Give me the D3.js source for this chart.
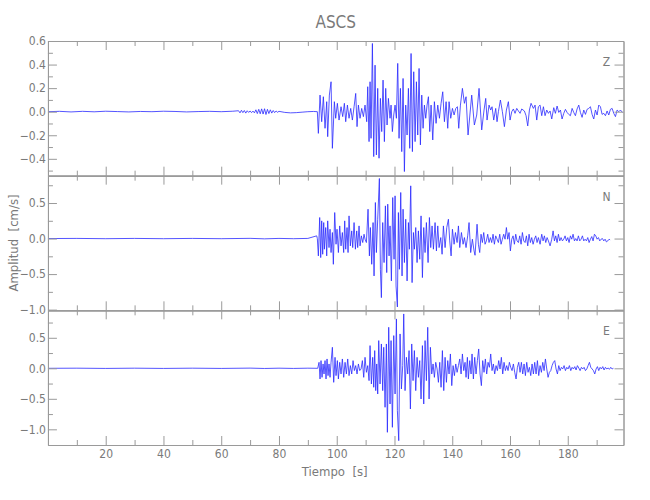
<!DOCTYPE html>
<html><head><meta charset="utf-8">
<script src="https://cdn.jsdelivr.net/npm/d3@7"></script>
<style>body{margin:0;background:#fff}</style>
</head><body>
<script>
const title = "ASCS";
const components = ["Z", "N", "E"];
const xLabel = "Tiempo  [s]";
const yLabel = "Amplitud  [cm/s]";
const timeDomain = [0, 199.3];
const xMajorTicks = [20, 40, 60, 80, 100, 120, 140, 160, 180];
const xMinorTicks = [10, 30, 50, 70, 90, 110, 130, 150, 170, 190];

const zDomain = [-0.543, 0.6];
const nDomain = [-1.01, 0.885];
const eDomain = [-1.257, 0.95];
const zMajorTicks = [-0.4, -0.2, 0, 0.2, 0.4, 0.6];
const zMinorTicks = [-0.5, -0.3, -0.1, 0.1, 0.3, 0.5];
const nMajorTicks = [-1.0, -0.5, 0, 0.5];
const nMinorTicks = [-0.75, -0.25, 0.25, 0.75];
const eMajorTicks = [-1.0, -0.5, 0, 0.5];
const eMinorTicks = [-0.75, -0.25, 0.25, 0.75];

// [time (s), amplitude (cm/s)]
const zTrace = [[0,0],[4,0.003],[8,-0.002],[12,0.003],[16,-0.001],[20,0.004],[24,0.001],[28,-0.002],[32,0.002],[36,0],[40,0.004],[44,0.002],[48,-0.002],[52,0.001],[56,0.003],[60,0],[64,0.004],
[66,0.008],[66.5,-0.01],[67,0.012],[67.5,-0.008],[68,0.01],[68.5,-0.012],[69,0.008],[69.5,-0.006],[70,0.006],[70.5,-0.008],[71,0.005],[71.5,-0.01],[72,0.016],[72.5,-0.016],[73,0.02],[73.5,-0.018],[74,0.024],[74.5,-0.02],[75,0.025],[75.5,-0.024],[76,0.02],[76.5,-0.016],[77,0.016],[77.5,-0.012],[78,0.01],[78.5,-0.008],[79,0.006],[79.5,-0.005],[80,0.003],[82,-0.006],[84,-0.01],[86,-0.008],[88,-0.004],[90,0],[92,0.002],[93.29,0],
[93.64,-0.184],[94.22,0.141],[94.79,-0.085],[95.37,0.127],[95.95,-0.141],[96.53,0.085],[96.87,-0.212],[97.45,0.141],[98.03,0.254],[98.49,-0.311],[99.18,0.085],[99.64,-0.056],[100.22,0.071],[100.80,-0.071],[101.49,0.042],[102.07,-0.042],[102.65,0.071],[103.11,-0.085],[103.69,0.056],[104.26,-0.056],[104.84,0.028],[105.42,-0.071],[106.00,0.042],[106.57,0.155],[107.03,-0.127],[107.50,0.056],[108.07,-0.056],[108.65,0.028],[109.23,-0.042],[109.80,0.056],[110.38,-0.085],[110.73,0.212],[111.19,-0.254],[111.54,0.254],[111.88,-0.226],[112.35,0.579],[112.81,-0.381],[113.27,0.395],[113.73,-0.367],[114.19,0.198],[114.65,-0.395],[115.12,0.113],[115.58,-0.169],[116.04,0.268],[116.50,-0.254],[116.96,0.198],[117.43,-0.113],[117.89,0.113],[118.46,-0.056],[118.81,0.056],[119.27,-0.169],[119.74,-0.028],[120.20,0.056],[120.66,-0.056],[121.12,0.410],[121.58,-0.226],[122.05,0.198],[122.51,-0.339],[122.97,0.282],[123.43,-0.508],[123.89,0.056],[124.36,-0.198],[124.82,0.198],[125.28,-0.311],[125.74,0.494],[126.20,-0.339],[126.66,0.339],[127.13,-0.254],[127.59,0.254],[128.05,-0.198],[128.51,0.367],[128.97,-0.282],[129.44,0.141],[129.90,-0.141],[130.36,0.056],[130.82,-0.056],[131.28,0.056],[131.75,0.127],[132.21,-0.169],[132.67,0.056],[133.25,-0.240],[133.82,0.085],[134.40,-0.099],[134.98,0.056],[135.56,-0.056],[136.13,0.071],[136.71,0.169],[137.29,-0.085],[137.87,0.085],[138.44,-0.141],[138.90,0.085],[139.48,-0.056],[140.06,0.028],[140.64,-0.028],[141.21,0.028],[141.79,0.042],[142.25,-0.141],[142.83,0.056],[143.52,0.198],[144.21,0.071],
[144.78,0.127],[145.47,-0.198],[146.74,0.141],[147.66,-0.113],[148.47,-0.028],[149.28,0.198],[150.20,-0.155],[151.01,0.014],[151.59,0.113],[152.05,-0.071],[152.74,0.056],[153.32,0.014],[153.78,0.042],[154.36,-0.071],[155.05,0.028],[155.51,-0.085],[155.98,0],[156.67,0.099],[157.36,0],[158.06,-0.127],[158.75,0.014],[159.44,0.085],[160.02,-0.071],[160.60,0],[161.17,0.023],[161.75,-0.014],[162.33,0.028],[162.91,0.006],[163.48,-0.014],[164.06,0.023],[164.98,0.006],[165.56,-0.034],[166.14,-0.121],[166.72,0.014],[167.29,0.071],[168.10,0.028],[168.68,0.056],[169.26,-0.071],[169.83,0.042],[170.41,0.056],[170.99,-0.034],[171.57,0.042],[172.14,-0.034],[172.72,0.014],[173.30,-0.014],[173.88,0.006],[174.45,-0.062],[175.15,0.034],[175.72,-0.014],[176.30,0.048],[176.88,-0.006],[177.46,0.014],[178.03,-0.062],[178.61,-0.014],[179.19,0.020],[179.76,-0.006],[180.34,-0.023],[180.92,-0.034],[181.50,0.028],[182.07,-0.006],[182.65,-0.034],[183.23,0.023],[183.81,0.056],[184.38,-0.006],[184.96,-0.048],[185.54,0.014],[186.12,-0.023],[186.69,0.020],[187.27,0.028],[187.85,0.042],[188.43,-0.023],[189.00,-0.062],[189.58,0.014],[190.16,-0.028],[190.74,0.056],[191.31,0.042],[191.89,-0.023],[192.47,-0.014],[193.05,-0.034],[193.62,0.006],[194.20,-0.028],[194.78,0.020],[195.36,0.028],[195.93,-0.014],[196.51,-0.042],[197.09,0.014],[197.67,0],[198.24,0.014],[198.94,-0.006]];

const nTrace = [[0,0],[10,0.002],[20,-0.002],[30,0.002],[40,-0.002],[50,0.002],[60,-0.002],[70,0.003],[75,-0.004],[80,0.002],[85,-0.002],[90,0.002],[93.06,0.038],[93.29,0],
[93.64,-0.244],[94.10,0.296],[94.45,-0.268],[94.79,0.249],[95.14,-0.221],[95.49,0.225],[95.72,-0.150],[96.18,0.155],[96.53,-0.244],[96.87,0.249],[97.33,-0.127],[97.68,0.131],[98.03,-0.197],[98.49,0.085],[98.83,-0.362],[99.30,0.366],[99.76,-0.080],[100.10,0.131],[100.57,-0.197],[101.03,0.178],[101.49,-0.103],[101.95,0.085],[102.41,-0.197],[102.76,0.249],[103.11,-0.150],[103.57,0.155],[103.92,-0.197],[104.26,0.319],[104.72,-0.103],[105.19,0.108],[105.53,-0.127],[106.00,0.225],[106.46,-0.150],[106.92,0.108],[107.26,-0.127],[107.73,0.178],[108.07,-0.103],[108.53,0.038],[109.00,-0.056],[109.46,0.061],[109.80,-0.009],[110.27,-0.056],[110.84,0.413],[111.31,-0.244],[111.65,0.155],[112.11,-0.362],[112.58,0.225],[112.92,-0.526],[113.38,0.507],[113.73,-0.197],[114.19,0.272],[114.77,0.845],[115.12,-0.432],[115.46,-0.831],[115.92,0.225],[116.39,-0.338],[116.85,0.460],[117.31,-0.479],[117.66,0.484],[118.12,-0.244],[118.46,0.178],[118.93,-0.596],[119.39,0.577],[119.85,-0.291],[120.20,0.601],[120.54,-0.667],[121.00,-0.962],[121.35,0.366],[121.70,-0.432],[122.16,0.648],[122.62,-0.526],[122.97,0.413],[123.43,-0.338],[123.89,0.272],[124.36,-0.596],[124.82,0.225],[125.16,-0.150],[125.62,0.742],[126.09,-0.620],[126.55,0.085],[126.89,-0.150],[127.36,0.155],[127.82,-0.338],[128.28,0.108],[128.74,-0.291],[129.20,0.319],[129.67,-0.549],[130.13,0.155],[130.59,-0.197],[131.05,0.225],[131.63,-0.338],[132.09,0.296],[132.55,-0.127],[133.01,0.178],[133.48,-0.150],[134.05,0.225],[134.52,-0.174],[134.98,0.178],[135.44,-0.127],[136.02,0.014],[136.48,-0.221],[136.94,0.178],[137.52,-0.127],[138.10,0.155],[138.67,0.272],[139.13,-0.033],[139.60,-0.244],[140.06,0.131],[140.64,-0.080],[141.10,0.085],[141.68,-0.056],[142.14,0.178],[142.60,-0.127],[143.18,0.085],[143.76,-0.080],[144.21,0.014],
[144.78,-0.127],[145.35,0.038],[145.82,0.225],[146.39,-0.197],[146.97,-0.009],[147.55,-0.174],[147.89,-0.235],[148.59,0.202],[149.05,-0.080],[149.51,-0.197],[149.97,0.061],[150.43,-0.056],[150.90,0.085],[151.36,-0.080],[151.82,-0.033],[152.28,0.061],[152.74,-0.056],[153.21,0.014],[153.67,-0.056],[154.13,0.061],[154.59,-0.080],[155.05,0.038],[155.52,-0.009],[155.98,-0.056],[156.44,0.061],[156.90,-0.080],[157.36,-0.009],[157.82,0.061],[158.29,-0.009],[158.75,0.155],[159.21,-0.009],[159.67,0.085],[160.13,-0.174],[160.60,-0.009],[161.06,0.038],[161.52,-0.080],[161.98,0.061],[162.44,-0.033],[162.91,-0.056],[163.37,0.038],[163.83,-0.080],[164.29,0.085],[164.75,-0.033],[165.22,-0.056],[165.68,0.038],[166.14,-0.103],[166.60,0.061],[167.06,-0.056],[167.52,0.014],[167.99,-0.080],[168.45,-0.009],[168.91,0.038],[169.37,-0.056],[169.83,0.014],[170.41,-0.080],[170.99,0.061],[171.45,-0.033],[171.91,0.038],[172.38,-0.056],[172.84,0.014],[173.30,-0.033],[173.88,-0.103],[174.45,-0.009],[174.92,0.108],[175.38,-0.033],[175.84,0.038],[176.30,-0.056],[176.76,0.061],[177.23,-0.033],[177.69,0.014],[178.15,-0.033],[178.61,-0.009],[179.07,0.038],[179.54,-0.033],[180.00,0.014],[180.46,-0.056],[180.92,0.038],[181.38,-0.009],[181.84,0.061],[182.31,-0.033],[182.77,0],[183.23,-0.033],[183.69,0.038],[184.15,-0.033],[184.62,-0.009],[185.08,0.038],[185.54,-0.033],[186.00,-0.009],[186.46,-0.033],[186.93,0.014],[187.39,-0.056],[187.85,-0.009],[188.31,0.028],[188.77,-0.033],[189.24,0.061],[189.70,0.038],[190.16,-0.009],[190.62,0.014],[191.08,-0.033],[191.54,-0.009],[192.01,0],[192.47,-0.033],[192.93,-0.009],[193.39,-0.047],[193.85,-0.033],[194.32,-0.009],[194.66,-0.019]];

const eTrace = [[0,0],[10,0.002],[20,-0.002],[30,0.002],[40,-0.002],[50,0.002],[60,-0.002],[70,0.003],[75,-0.003],[80,0.002],[85,-0.002],[90,0.002],[93.41,0],
[93.87,0.098],[94.22,-0.175],[94.56,0.126],[94.91,-0.148],[95.26,0.071],[95.60,-0.093],[95.95,0.126],[96.29,-0.175],[96.64,0.153],[96.99,-0.120],[97.33,0.071],[97.68,-0.148],[98.03,0.098],[98.49,0.344],[98.95,-0.230],[99.41,0.180],[99.76,-0.120],[100.22,0.126],[100.57,-0.175],[101.03,0.098],[101.49,-0.093],[101.95,0.153],[102.41,-0.148],[102.88,0.098],[103.34,-0.093],[103.80,0.153],[104.26,-0.120],[104.72,0.044],[105.19,-0.093],[105.65,0.126],[106.11,-0.038],[106.57,0.044],[107.03,-0.093],[107.50,0.071],[107.96,-0.038],[108.42,-0.011],[108.88,0.126],[109.34,-0.148],[109.80,0.180],[110.27,-0.066],[110.73,0.044],[111.19,-0.202],[111.54,0.372],[112.00,-0.257],[112.46,0.180],[112.81,-0.311],[113.15,0.290],[113.50,-0.366],[113.85,0.071],[114.19,-0.421],[114.54,0.454],[115.00,-0.257],[115.46,0.399],[115.92,-0.366],[116.27,0.344],[116.73,-0.639],[117.19,0.399],[117.54,-1.049],[118.00,0.672],[118.46,-0.585],[118.81,0.454],[119.27,-0.967],[119.74,0.536],[120.20,-0.421],[120.66,0.809],[121.00,-0.694],[121.47,-1.186],[121.93,0.563],[122.39,-0.339],[122.85,0.044],[123.20,0.891],[123.66,-0.366],[124.12,0.180],[124.58,-0.093],[125.05,0.290],[125.51,-0.667],[125.97,0.399],[126.43,-0.202],[126.89,0.290],[127.36,-0.366],[127.82,0.180],[128.28,-0.148],[128.74,0.126],[129.20,-0.503],[129.67,0.372],[130.13,-0.585],[130.59,0.454],[131.05,-0.202],[131.51,0.672],[131.98,-0.503],[132.44,0.344],[132.90,-0.093],[133.36,0.071],[133.82,-0.148],[134.28,0.098],[134.75,-0.011],[135.21,-0.230],[135.67,0.098],[136.13,-0.311],[136.59,0.290],[137.06,-0.366],[137.52,0.180],[137.98,-0.230],[138.44,0.126],[138.90,-0.093],[139.36,0.235],[139.83,-0.284],[140.29,0.044],[140.75,-0.120],[141.21,0.071],[141.68,-0.066],[142.14,0.044],[142.60,0.153],[143.06,-0.093],[143.52,0.235],[143.98,-0.038],
[144.43,0.098],[144.78,-0.148],[145.24,0.180],[145.58,-0.175],[146.05,0.126],[146.51,-0.093],[146.85,0.235],[147.32,-0.175],[147.78,0.180],[148.24,-0.093],[148.70,0.126],[149.16,0.317],[149.63,-0.093],[150.09,-0.284],[150.55,0.126],[151.01,-0.066],[151.47,0.153],[151.93,-0.093],[152.40,0.098],[152.86,0.016],[153.32,0.235],[153.78,-0.038],[154.24,0.071],[154.70,-0.093],[155.17,0.044],[155.63,-0.038],[156.09,0.126],[156.55,-0.011],[157.01,0.180],[157.48,-0.093],[157.94,0.098],[158.40,-0.038],[158.86,0.044],[159.32,-0.038],[159.79,0.098],[160.25,0.016],[160.71,-0.038],[161.17,0.071],[161.63,-0.066],[162.10,-0.175],[162.56,0.016],[163.02,0.098],[163.48,-0.066],[163.94,0.098],[164.41,-0.093],[164.87,0.071],[165.33,-0.120],[165.79,0.098],[166.25,-0.066],[166.72,0.016],[167.18,-0.120],[167.64,0.071],[168.10,-0.093],[168.56,0.098],[169.03,-0.093],[169.49,0.126],[169.95,-0.120],[170.41,0.044],[170.87,-0.066],[171.34,0.098],[171.80,-0.038],[172.26,0.153],[172.72,-0.011],[173.18,-0.148],[173.64,-0.066],[174.11,-0.038],[174.57,0.044],[175.03,0.098],[175.49,0.126],[175.95,-0.011],[176.42,-0.093],[176.88,0.044],[177.34,-0.038],[177.80,0.016],[178.26,-0.011],[178.73,0.044],[179.19,-0.038],[179.65,0.016],[180.11,-0.011],[180.57,0.044],[181.04,-0.038],[181.50,0.016],[181.96,-0.011],[182.42,0.027],[182.88,-0.027],[183.34,0.044],[183.81,0.005],[184.27,-0.038],[184.73,0.016],[185.19,-0.011],[185.65,0.016],[186.12,-0.038],[186.58,-0.011],[187.04,0.044],[187.50,0.098],[187.96,0.016],[188.43,-0.011],[188.89,-0.038],[189.35,-0.093],[189.81,-0.011],[190.27,0.027],[190.73,-0.038],[191.20,0.016],[191.66,-0.011],[192.12,0.027],[192.58,-0.027],[193.04,0.016],[193.51,-0.011],[193.97,0.005],[194.43,-0.016],[194.89,0.016],[195.35,-0.011],[195.82,0]];

const traces = [zTrace, nTrace, eTrace];
const yDomains = [zDomain, nDomain, eDomain];
const yMajor = [zMajorTicks, nMajorTicks, eMajorTicks];
const yMinor = [zMinorTicks, nMinorTicks, eMinorTicks];

// ---------- layout / style ----------
const W = 650, H = 500;
const left = 47.95, right = 623.5;
const top0 = 41, panelH = (445 - 41) / 3;
const axisColor = "#9a9a9a", textColor = "#7a7a7a";
const font = "'Liberation Sans Narrow','DejaVu Sans Condensed','Liberation Sans',sans-serif";

const svg = d3.select("body").append("svg").attr("width", W).attr("height", H)
  .style("font-family", font);

const x = d3.scaleLinear().domain(timeDomain).range([left, right]);
const fmt = v => (v < 0 ? "\u2212" : "") + Math.abs(v).toFixed(1);

function styleAxis(g) {
  g.selectAll("path,line").attr("stroke", axisColor).attr("stroke-width", 1);
  g.selectAll("text").attr("fill", textColor).style("font-size", "12px").style("font-family", font);
}

traces.forEach((tr, i) => {
  const t = top0 + i * panelH, b = t + panelH;
  const y = d3.scaleLinear().domain(yDomains[i]).range([b, t]);
  const g = svg.append("g");

  const clipId = "clip" + i;
  svg.append("clipPath").attr("id", clipId).append("rect")
    .attr("x", left).attr("y", t).attr("width", right - left).attr("height", panelH);

  g.append("path").datum(tr)
    .attr("clip-path", `url(#${clipId})`)
    .attr("fill", "none").attr("stroke", "#2a2aff").attr("stroke-width", 0.8)
    .attr("stroke-linejoin", "round")
    .attr("d", d3.line().x(d => x(d[0])).y(d => y(d[1])));

  // left axis
  g.append("g").attr("transform", `translate(${left},0)`)
    .call(d3.axisLeft(y).tickValues(yMajor[i]).tickSize(-9).tickSizeOuter(0).tickPadding(2).tickFormat(fmt)).call(styleAxis);
  g.append("g").attr("transform", `translate(${left},0)`)
    .call(d3.axisLeft(y).tickValues(yMinor[i]).tickSize(-5).tickSizeOuter(0).tickFormat("")).call(styleAxis);
  // right axis
  g.append("g").attr("transform", `translate(${right},0)`)
    .call(d3.axisRight(y).tickValues(yMajor[i]).tickSize(-9).tickSizeOuter(0).tickFormat("")).call(styleAxis);
  g.append("g").attr("transform", `translate(${right},0)`)
    .call(d3.axisRight(y).tickValues(yMinor[i]).tickSize(-5).tickSizeOuter(0).tickFormat("")).call(styleAxis);
  // top axis
  g.append("g").attr("transform", `translate(0,${t})`)
    .call(d3.axisTop(x).tickValues(xMajorTicks).tickSize(-9).tickSizeOuter(0).tickFormat("")).call(styleAxis);
  g.append("g").attr("transform", `translate(0,${t})`)
    .call(d3.axisTop(x).tickValues(xMinorTicks).tickSize(-5).tickSizeOuter(0).tickFormat("")).call(styleAxis);
  // bottom axis
  const last = i === traces.length - 1;
  g.append("g").attr("transform", `translate(0,${b})`)
    .call(d3.axisBottom(x).tickValues(xMajorTicks).tickSize(-9).tickSizeOuter(0).tickPadding(4)
      .tickFormat(last ? d3.format("d") : "")).call(styleAxis);
  g.append("g").attr("transform", `translate(0,${b})`)
    .call(d3.axisBottom(x).tickValues(xMinorTicks).tickSize(-5).tickSizeOuter(0).tickFormat("")).call(styleAxis);

  g.append("text").attr("x", right - 17).attr("y", t + 25)
    .attr("text-anchor", "middle").attr("fill", textColor)
    .style("font-size", "12px").text(components[i]);
});

svg.append("text").attr("x", (left + right) / 2).attr("y", 28)
  .attr("text-anchor", "middle").attr("fill", textColor)
  .style("font-size", "17px").text(title);

svg.append("text").attr("x", (left + right) / 2 - 1).attr("y", 476)
  .attr("text-anchor", "middle").attr("fill", textColor)
  .style("font-size", "13px").style("white-space", "pre").attr("xml:space", "preserve").text(xLabel);

svg.append("text").attr("transform", `translate(18,${top0 + 1.5 * panelH}) rotate(-90)`)
  .attr("text-anchor", "middle").attr("fill", textColor)
  .style("font-size", "13px").style("white-space", "pre").attr("xml:space", "preserve").text(yLabel);
</script>
</body></html>
